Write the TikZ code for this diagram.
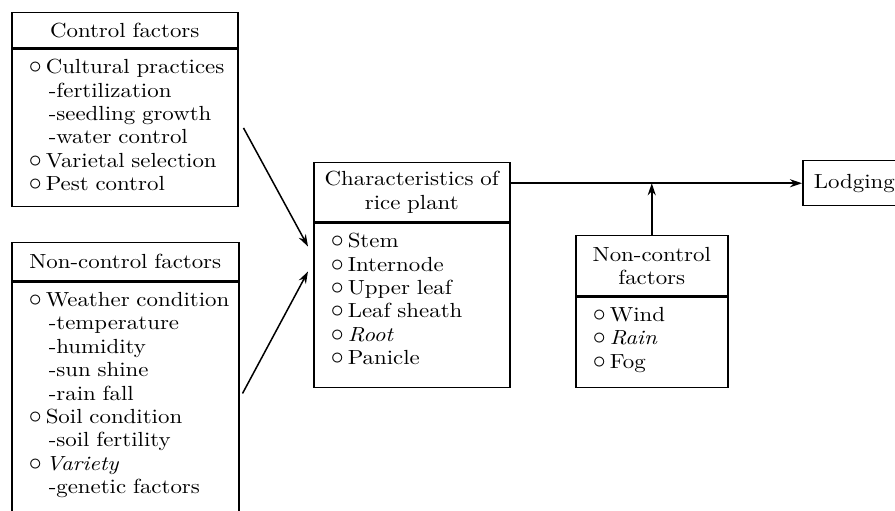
\documentclass[tikz,border=0pt]{standalone}
\usepackage{fontspec}
\setmainfont{lmroman10-regular.otf}[ItalicFont=lmroman10-italic.otf, FakeStretch=1.12]
\usepackage{tikz}
\usetikzlibrary{arrows.meta}
\newcommand{\circitem}[1]{\mbox{\makebox[17bp][l]{\scalebox{1.25}{$\circ$}}#1}}
\newcommand{\dashitem}[1]{\mbox{\hspace*{20bp}-#1}}

\begin{document}
\begin{tikzpicture}[x=1bp, y=-1bp, line width=1.5bp,
  every node/.style={font=\fontsize{20.5}{23.5}\selectfont},
  head/.style={draw, anchor=north west, inner sep=0pt, align=center},
  body/.style={draw, anchor=north west, inner xsep=17bp, inner ysep=10bp, align=left},
  arr/.style={-{Stealth[length=12bp, width=8bp]}}]
\useasboundingbox (0,0) rectangle (895,511);
\clip (0,0) rectangle (895,511);

\node[head, text width=226bp, minimum height=35bp] (ctrlhead) at (11,12) {Control factors};
\node[body, text width=192bp, text depth=123bp] (ctrlbody) at (ctrlhead.south west)
  {\circitem{Cultural practices}\\ \dashitem{fertilization}\\ \dashitem{seedling growth}\\
   \dashitem{water control}\\ \circitem{Varietal selection}\\ \circitem{Pest control}};

\node[head, text width=227bp, minimum height=38bp] (nchead) at (11,242) {Non-control factors};
\node[body, text width=193bp, text depth=240bp] (ncbody) at (nchead.south west)
  {\circitem{Weather condition}\\ \dashitem{temperature}\\ \dashitem{humidity}\\
   \dashitem{sun shine}\\ \dashitem{rain fall}\\ \circitem{Soil condition}\\
   \dashitem{soil fertility}\\ \circitem{\textit{Variety}}\\ \dashitem{genetic factors}};

\node[head, text width=196bp, minimum height=59bp] (charhead) at (313,162) {Characteristics of\\ rice plant};
\node[body, text width=162bp, text depth=130bp] (charbody) at (charhead.south west)
  {\circitem{Stem}\\ \circitem{Internode}\\ \circitem{Upper leaf}\\
   \circitem{Leaf sheath}\\ \circitem{\textit{Root}}\\ \circitem{Panicle}};

\node[head, text width=152bp, minimum height=60bp] (windhead) at (575,235) {Non-control\\ factors};
\node[body, text width=118bp, text depth=56bp] (windbody) at (windhead.south west)
  {\circitem{Wind}\\ \circitem{\textit{Rain}}\\ \circitem{Fog}};

\node[draw, anchor=north west, inner xsep=11bp, minimum height=45bp] (lodging) at (802,160) {Lodging};

\draw[arr] ([xshift=5bp]ctrlbody.east) -- ([shift={(-5bp,-24bp)}]charbody.north west);
\draw[arr] ([shift={(3bp,-112bp)}]ncbody.north east) -- ([shift={(-5bp,-49bp)}]charbody.north west);
\draw[arr] (charhead.east |- lodging.west) -- (lodging.west);
\draw[arr] (windhead.north) -- (windhead.north |- lodging.west);
\end{tikzpicture}
\end{document}
